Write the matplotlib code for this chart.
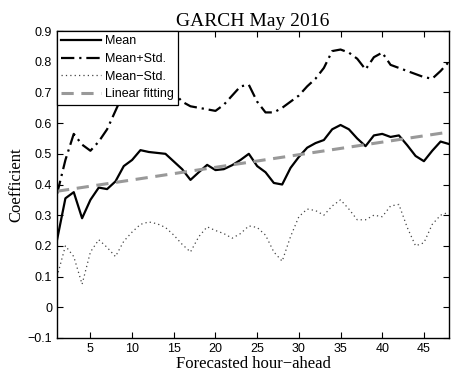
import numpy as np
import matplotlib
matplotlib.use("Agg")
import matplotlib.pyplot as plt

hours = list(range(1, 49))

mean = [0.22, 0.355, 0.375, 0.29, 0.35, 0.39, 0.385, 0.41, 0.46, 0.48,
        0.512, 0.506, 0.503, 0.50, 0.475, 0.45, 0.415, 0.44, 0.464, 0.447,
        0.45, 0.463, 0.48, 0.50, 0.46, 0.44, 0.405, 0.40, 0.454, 0.49,
        0.52, 0.535, 0.545, 0.58, 0.594, 0.58, 0.55, 0.525, 0.56, 0.565,
        0.555, 0.56, 0.528, 0.493, 0.476, 0.51, 0.54, 0.532]

mean_plus_std = [0.37, 0.48, 0.565, 0.53, 0.51, 0.54, 0.58, 0.64, 0.70, 0.72,
                 0.74, 0.75, 0.74, 0.72, 0.70, 0.67, 0.655, 0.65, 0.645, 0.64,
                 0.66, 0.69, 0.72, 0.725, 0.67, 0.635, 0.635, 0.65, 0.67, 0.69,
                 0.72, 0.745, 0.78, 0.835, 0.84, 0.83, 0.81, 0.775, 0.815, 0.83,
                 0.79, 0.78, 0.77, 0.76, 0.75, 0.745, 0.77, 0.80]

mean_minus_std = [0.10, 0.20, 0.165, 0.075, 0.18, 0.22, 0.195, 0.165, 0.215, 0.245,
                  0.27, 0.278, 0.272, 0.26, 0.235, 0.205, 0.18, 0.23, 0.262, 0.25,
                  0.24, 0.225, 0.24, 0.265, 0.26, 0.235, 0.18, 0.15, 0.23, 0.295,
                  0.32, 0.315, 0.30, 0.33, 0.35, 0.32, 0.285, 0.285, 0.30, 0.295,
                  0.33, 0.335, 0.26, 0.20, 0.21, 0.27, 0.30, 0.31]

# linear fit at the two ends
fit_hours = [1, 48]
fit_values = [0.378, 0.571]

serif = 'Liberation Serif'
sans = 'Liberation Sans'

fig = plt.figure(figsize=(4.53, 3.75), dpi=100)
ax = fig.add_axes([0.126, 0.099, 0.865, 0.818])

ax.plot(hours, mean, color='black', linewidth=1.6, label='Mean')
ax.plot(hours, mean_plus_std, color='black', linewidth=1.6, linestyle=(0, (6, 2.2, 1, 2.2)), label='Mean+Std.')
ax.plot(hours, mean_minus_std, color='#444444', linewidth=0.9, linestyle=(0, (1, 2.5)), label='Mean\u2212Std.')
ax.plot(fit_hours, fit_values, color='#999999', linewidth=2.2, linestyle=(0, (4, 2.5)), label='Linear fitting')

ax.set_xlim(1, 48)
ax.set_ylim(-0.1, 0.9)
ax.set_xticks([5, 10, 15, 20, 25, 30, 35, 40, 45])
ax.set_yticks(np.round(np.arange(-0.1, 0.91, 0.1), 1))
ax.set_yticklabels(['\u22120.1', '0', '0.1', '0.2', '0.3', '0.4', '0.5', '0.6', '0.7', '0.8', '0.9'])
ax.tick_params(direction='in', top=True, right=True, length=4, width=0.8, labelsize=9)
for lbl in ax.get_xticklabels() + ax.get_yticklabels():
    lbl.set_fontfamily(sans)
for s in ax.spines.values():
    s.set_linewidth(1.0)

ax.set_title('GARCH May 2016', fontfamily=serif, fontsize=14, pad=4)
ax.set_xlabel('Forecasted hour\u2212ahead', fontfamily=serif, fontsize=12, labelpad=1)
ax.set_ylabel('Coefficient', fontfamily=serif, fontsize=12, labelpad=2)

leg = ax.legend(loc='upper left', prop={'family': sans, 'size': 9}, frameon=True,
                fancybox=False, borderaxespad=0, handlelength=3.2, borderpad=0.35,
                labelspacing=0.45, handletextpad=0.3)
leg.get_frame().set_edgecolor('black')
leg.get_frame().set_linewidth(0.9)
leg.get_frame().set_alpha(1)

fig.savefig('out.png', dpi=100)
